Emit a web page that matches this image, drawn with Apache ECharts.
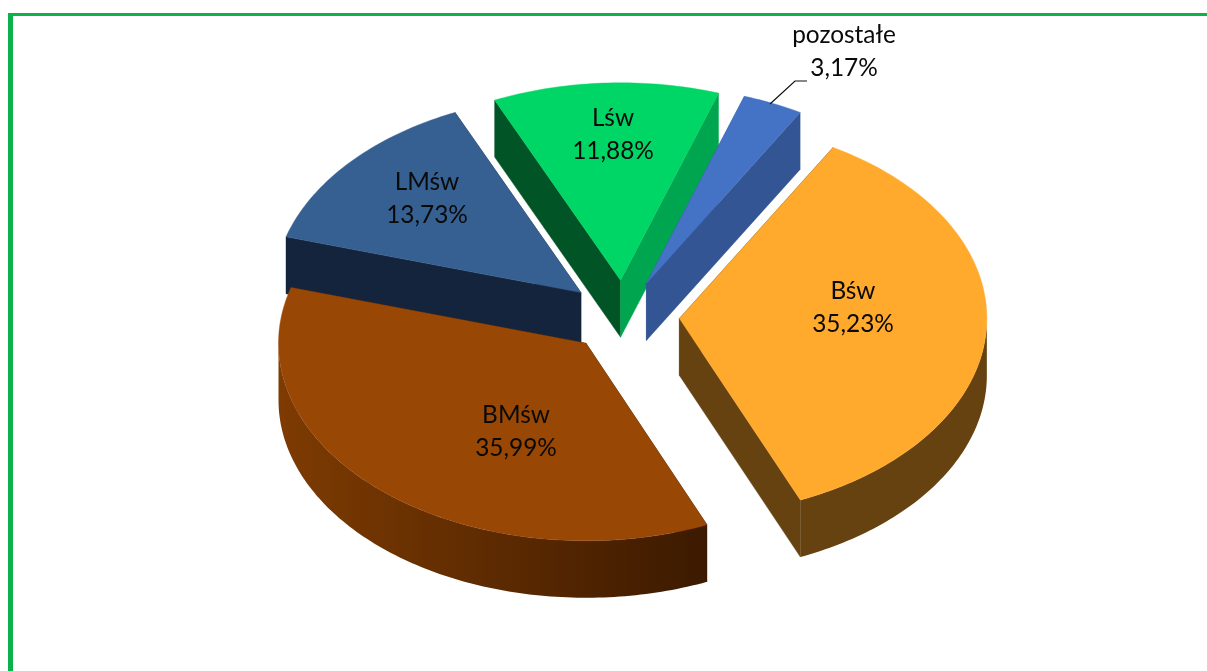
<!DOCTYPE html>
<html><head><meta charset="utf-8">
<style>html,body{margin:0;padding:0;background:#fff}#c{width:1207px;height:671px}</style>
<script src="https://cdn.jsdelivr.net/npm/echarts@6/dist/echarts.min.js"></script>
</head><body><div id="c"></div>
<script>
// Data, in Excel clockwise order beginning at the first-slice angle
const categories = ['Bśw', 'BMśw', 'LMśw', 'Lśw', 'pozostałe'];
const values = [35.23, 35.99, 13.73, 11.88, 3.17];
const valueLabels = ['35,23%', '35,99%', '13,73%', '11,88%', '3,17%'];

// Styling
const topColors = ['#FFAA2C', '#994704', '#376092', '#00D666', '#4472C4'];
const rimColors = ['#654210', ['#7E3B02', '#3C1A00'], '#376092', '#00A64F', '#335593'];
const startCutColors = ['#654210', '#3C1A00', '#14243D', '#005426', '#335593'];
const endCutColors = ['#654210', '#3C1A00', '#14243D', '#00A64F', '#335593'];
const drawOrder = [3, 5, 1, 2, 4]; // z per slice: back slices first

// Layout
const firstAngle = 30, centre = [623.3, 316.3], radii = [307.5, 197.5], explode = 0.1826, depth = 57;
const labelPos = [[853, 308], [516, 432], [427, 199], [613, 135], [844, 52]];
const leader = [[770, 104], [795, 81], [807, 81]];

const total = values.reduce((a, b) => a + b, 0);
const rad = d => d * Math.PI / 180;

function renderSlice(params, api) {
  const i = params.dataIndex;
  let before = 0;
  for (let k = 0; k < i; k++) before += values[k];
  const a0 = firstAngle + before / total * 360;
  const a1 = a0 + api.value(0) / total * 360;
  const mid = rad((a0 + a1) / 2);
  const ax = centre[0] + explode * radii[0] * Math.sin(mid);
  const ay = centre[1] - explode * radii[1] * Math.cos(mid);
  const pt = (a, dy) => [ax + radii[0] * Math.sin(rad(a)), ay - radii[1] * Math.cos(rad(a)) + (dy || 0)];
  const arc = (s, e, dy) => {
    const n = Math.max(2, Math.ceil(Math.abs(e - s)));
    const r = [];
    for (let k = 0; k <= n; k++) r.push(pt(s + (e - s) * k / n, dy));
    return r;
  };
  const z = drawOrder[i] * 10;
  const children = [];
  const poly = (points, fill, zz) => children.push({
    type: 'polygon', shape: { points }, z2: z + zz,
    style: { fill, stroke: fill, lineWidth: 0.4 }
  });
  const apexTop = [ax, ay], apexBot = [ax, ay + depth];
  // radial cuts
  const norm = a => ((a % 360) + 360) % 360;
  const startVisible = Math.sin(rad(norm(a0))) < 0;
  const endVisible = Math.sin(rad(norm(a1))) > 0;
  poly([apexTop, pt(a0), pt(a0, depth), apexBot], startCutColors[i], startVisible ? 2 : 0);
  poly([apexTop, pt(a1), pt(a1, depth), apexBot], endCutColors[i], endVisible ? 2 : 0);
  // outer rim: only the front half (90..270 clockwise from the top) is visible
  const s = Math.max(a0, 90), e = Math.min(a1, 270);
  if (e > s) {
    const rim = rimColors[i];
    const fill = Array.isArray(rim)
      ? new echarts.graphic.LinearGradient(0, 0, 1, 0, [{ offset: 0, color: rim[0] }, { offset: 1, color: rim[1] }])
      : rim;
    children.push({
      type: 'polygon', z2: z + 1,
      shape: { points: arc(s, e, 0).concat(arc(e, s, depth)) },
      style: { fill }
    });
  }
  // top face
  poly([apexTop].concat(arc(a0, a1, 0)), topColors[i], 3);
  // label
  children.push({
    type: 'text', z2: 100,
    style: {
      x: labelPos[i][0], y: labelPos[i][1],
      text: categories[i] + '\n' + valueLabels[i],
      align: 'center', verticalAlign: 'middle',
      fontFamily: 'Lato, Carlito, sans-serif', fontSize: 24.4, lineHeight: 33, fill: '#0a0a0a'
    }
  });
  return { type: 'group', children };
}

const chart = echarts.init(document.getElementById('c'), null, { renderer: 'canvas' });
chart.setOption({
  animation: false,
  backgroundColor: '#ffffff',
  graphic: [
    { type: 'rect', z: 50, shape: { x: 8, y: 13, width: 5, height: 658 }, style: { fill: '#0CB14B' } },
    { type: 'rect', z: 50, shape: { x: 8, y: 13, width: 1199, height: 3 }, style: { fill: '#0CB14B' } },
    { type: 'polyline', z: 50, shape: { points: leader }, style: { stroke: '#111', lineWidth: 1.2, fill: null } }
  ],
  series: [{
    type: 'custom',
    coordinateSystem: 'none',
    silent: true,
    data: values.map((v, i) => ({ name: categories[i], value: v })),
    renderItem: renderSlice
  }]
});
</script></body></html>
